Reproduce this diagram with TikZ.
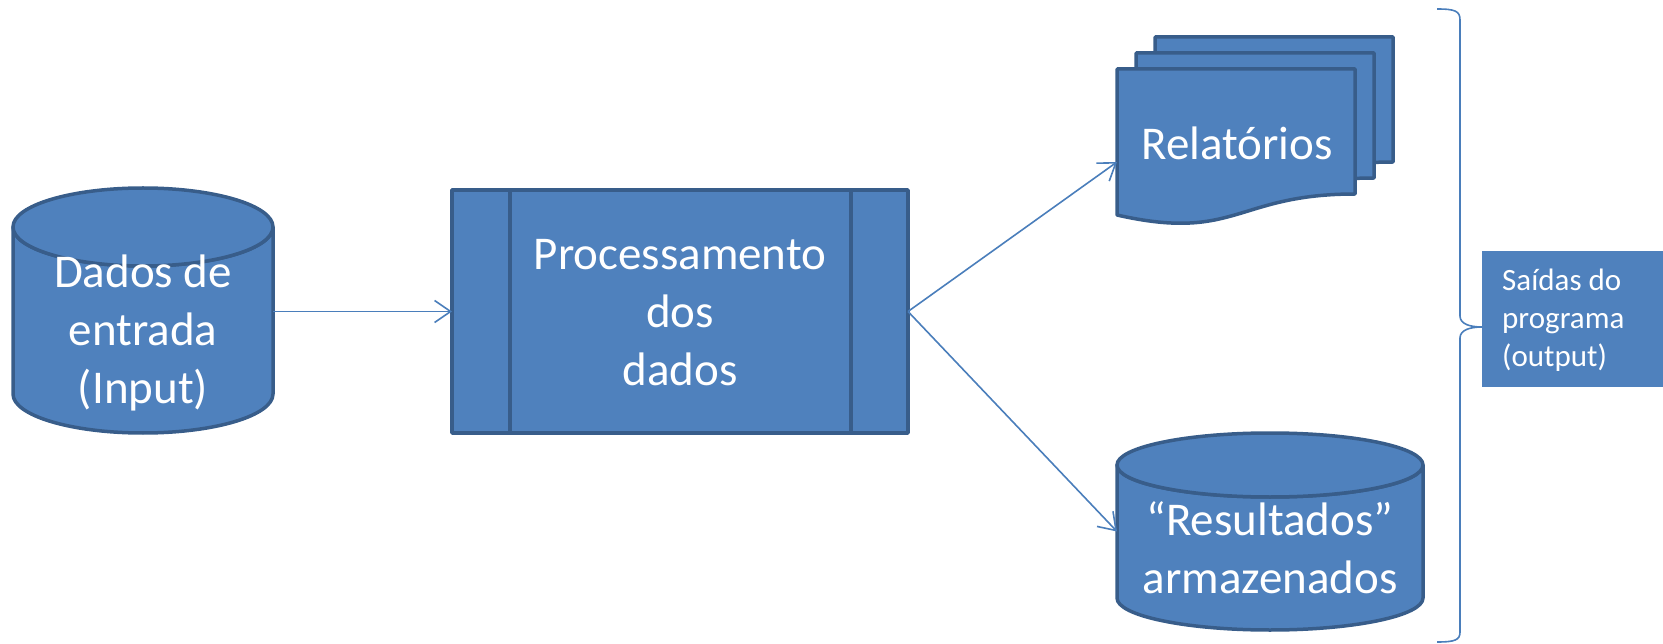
\documentclass[tikz,border=0pt]{standalone}
\usepackage{fontspec}
\setmainfont{Carlito}
\usetikzlibrary{arrows.meta,calc}
\definecolor{fillblue}{HTML}{4F81BD}
\definecolor{edgeblue}{HTML}{385D8A}
\definecolor{linkblue}{HTML}{4A7EBB}
\begin{document}
\begin{tikzpicture}[x=1pt,y=-1pt,
  shapestyle/.style={fill=fillblue,draw=edgeblue,line width=3.5pt,line join=round},
  bigtext/.style={text=white,align=center,font=\fontsize{47}{58}\selectfont,inner sep=0pt},
  smalltext/.style={text=white,align=left,font=\fontsize{31}{38}\selectfont,inner sep=0pt},
  holder/.style={inner sep=0pt,outer sep=0pt},
  link/.style={draw=linkblue,line width=1.6pt,-{Straight Barb[length=16pt,width=22pt,line width=1.6pt]}},
  bracestyle/.style={draw=linkblue,line width=1.6pt},
  docpic/.pic={\path[shapestyle] (0,0) -- (238,0) -- (238,125) .. controls (119,125) and (119,173) .. (0,146) -- cycle;}
]
\useasboundingbox (0,0) rectangle (1663,644);

% input cylinder
\path[shapestyle] (13,227) -- (13,394) arc[start angle=180,end angle=0,x radius=130,y radius=39]
  -- (273,227) arc[start angle=0,end angle=180,x radius=130,y radius=39] -- cycle;
\path[shapestyle] (143,227) ellipse [x radius=130,y radius=39];
\node[holder,minimum width=260pt,minimum height=245pt] (inp) at (143,310.5) {};
\node[bigtext] (inptxt) at (143,333) {Dados de\\entrada\\(Input)};

% processing box
\node[shapestyle,holder,minimum width=456pt,minimum height=243pt] (proc) at (680,311.5) {};
\draw[edgeblue,line width=3.5pt] ([xshift=58pt]proc.north west) -- ([xshift=58pt]proc.south west);
\draw[edgeblue,line width=3.5pt] ([xshift=-57pt]proc.north east) -- ([xshift=-57pt]proc.south east);
\node[bigtext] (proctxt) at (680,313) {Processamento\\dos\\dados};

% reports (stacked documents)
\pic at (1155,37) {docpic};
\pic at (1136,53) {docpic};
\pic at (1117,69) {docpic};
\node[holder,minimum width=238pt,minimum height=156pt] (rel) at (1236,147) {};
\node[bigtext] (reltxt) at (1237,143) {Relatórios};

% results cylinder
\path[shapestyle] (1117,465) -- (1117,598) arc[start angle=180,end angle=0,x radius=153,y radius=32]
  -- (1423,465) arc[start angle=0,end angle=180,x radius=153,y radius=32] -- cycle;
\path[shapestyle] (1270,465) ellipse [x radius=153,y radius=32];
\node[holder,minimum width=306pt,minimum height=197pt] (res) at (1270,531.5) {};
\node[bigtext] (restxt) at (1270,548) {“Resultados”\\armazenados};

% output label box
\node[holder,fill=fillblue,minimum width=181pt,minimum height=136pt,anchor=north west] (outbox) at (1482,251) {};
\node[smalltext,anchor=west] (outtxt) at (1502,320) {Saídas do\\programa\\(output)};

% brace
\coordinate (btip) at (1482,327);
\draw[bracestyle] (1437,9) .. controls (1455,9) and (1460,11) .. (1460,20) -- (1460,316)
  .. controls (1460,324) and (1470,327) .. (btip)
  .. controls (1470,327) and (1460,330) .. (1460,338) -- (1460,632)
  .. controls (1460,640) and (1455,642) .. (1437,642);

% connectors
\draw[link] (inp.east |- proc.west) -- (proc.west);
\draw[link] (proc.east) -- ([yshift=-15pt]rel.west);
\draw[link] (proc.east) -- (res.west);
\end{tikzpicture}
\end{document}
